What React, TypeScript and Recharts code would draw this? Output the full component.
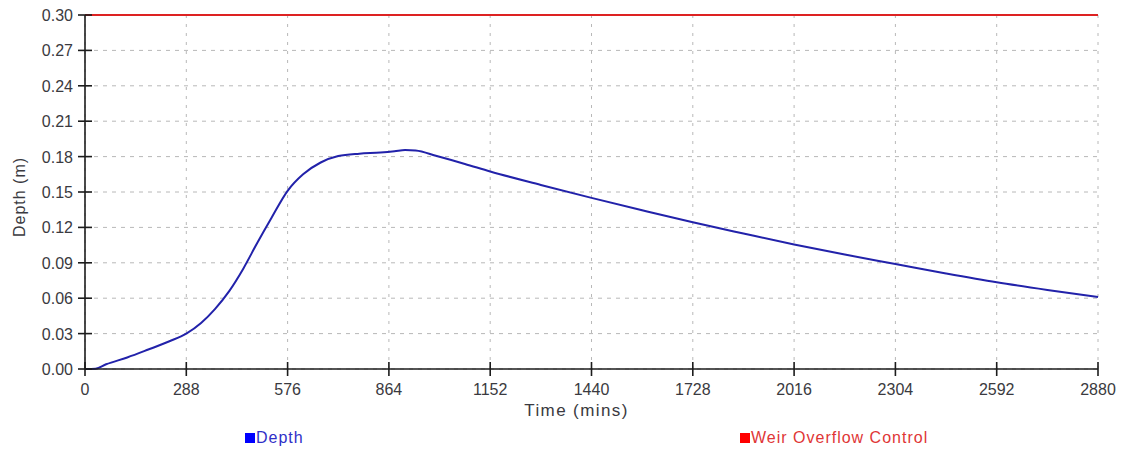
import {
  CartesianGrid,
  Label,
  Legend,
  Line,
  LineChart,
  XAxis,
  YAxis,
} from "recharts";

// Depth hydrograph, minutes from start vs depth in metres
const timeMins = [
  0, 30, 60, 120, 180, 240, 288, 330, 370, 410, 450, 490, 530, 576, 620,
  670, 720, 780, 840, 880, 910, 940, 1000, 1080, 1152, 1296, 1440, 1584,
  1728, 1872, 2016, 2160, 2304, 2448, 2592, 2736, 2880,
];

const depthM = [
  0, 0.0003, 0.004, 0.0098, 0.0165, 0.0235, 0.03, 0.039, 0.051, 0.066,
  0.085, 0.107, 0.128, 0.151, 0.165, 0.175, 0.1805, 0.1825, 0.1834, 0.1845,
  0.1856, 0.1852, 0.1805, 0.1738, 0.1674, 0.156, 0.145, 0.1345, 0.1243,
  0.1148, 0.1055, 0.097, 0.089, 0.081, 0.0735, 0.067, 0.061,
];

// Weir overflow control level
const weirTimeMins = [0, 2880];
const weirDepthM = [0.3, 0.3];

const timeTicks = [0, 288, 576, 864, 1152, 1440, 1728, 2016, 2304, 2592, 2880];
const depthTicks = [0, 0.03, 0.06, 0.09, 0.12, 0.15, 0.18, 0.21, 0.24, 0.27, 0.3];

const depthData = timeMins.map((time, i) => ({
  time,
  value: depthM[i],
}));

const weirData = weirTimeMins.map((time, i) => ({
  time,
  value: weirDepthM[i],
}));

const FONT = "'Liberation Sans', Arial, sans-serif";
const AXIS = "#1c1c1c";
const TICK_TEXT = "#3a3a40";
const GRID = "#b8b8b8";

function XTick(props: any) {
  const { x, y, payload } = props;
  return (
    <g>
      <line x1={x} x2={x} y1={y - 7} y2={y + 7} stroke={AXIS} strokeWidth={1.6} />
      <text
        x={x}
        y={y + 26}
        textAnchor="middle"
        fill={TICK_TEXT}
        fontSize={16}
        fontFamily={FONT}
      >
        {payload.value}
      </text>
    </g>
  );
}

function YTick(props: any) {
  const { x, y, payload } = props;
  return (
    <g>
      <line x1={x - 7} x2={x + 7} y1={y} y2={y} stroke={AXIS} strokeWidth={1.6} />
      <text
        x={x - 12}
        y={y + 6}
        textAnchor="end"
        fill={TICK_TEXT}
        fontSize={16}
        fontFamily={FONT}
      >
        {Number(payload.value).toFixed(2)}
      </text>
    </g>
  );
}

const legendLeft = [245, 740];
const legendText = ["#2f2fc8", "#e03636"];
const legendSwatch = ["#0000ff", "#ff0000"];

function renderLegend(props: any) {
  const { payload = [] } = props;
  return (
    <div style={{ position: "relative", width: 1127, height: 20 }}>
      {payload.map((entry: any, i: number) => (
        <div
          key={entry.value}
          style={{
            position: "absolute",
            left: legendLeft[i],
            top: 0,
            height: 20,
            display: "flex",
            alignItems: "center",
            fontFamily: FONT,
            fontSize: 16,
            letterSpacing: 1,
            color: legendText[i],
            whiteSpace: "nowrap",
          }}
        >
          <span
            style={{
              display: "inline-block",
              width: 10,
              height: 10,
              background: legendSwatch[i],
              marginRight: 1,
            }}
          />
          {entry.value}
        </div>
      ))}
    </div>
  );
}

export default function App() {
  return (
    <div style={{ width: 1127, height: 452, background: "#fff" }}>
      <style>{`body { margin: 0; }`}</style>
      <LineChart
        width={1127}
        height={452}
        margin={{ top: 15, right: 29, bottom: 0, left: 0 }}
      >
        <CartesianGrid
          horizontal={true}
          vertical={false}
          stroke={GRID}
          strokeDasharray="4 5"
        />
        <CartesianGrid
          horizontal={false}
          vertical={true}
          stroke={GRID}
          strokeDasharray="3 6"
        />

        <XAxis
          type="number"
          dataKey="time"
          domain={[0, 2880]}
          ticks={timeTicks}
          interval={0}
          height={83}
          tickSize={0}
          tickMargin={0}
          tickLine={false}
          axisLine={{ stroke: AXIS, strokeWidth: 1.6 }}
          tick={<XTick />}
        >
          <Label
            content={(props: any) => {
              const vb = props.viewBox;
              return (
                <text
                  x={vb.x + vb.width / 2 - 15}
                  y={vb.y + 47}
                  textAnchor="middle"
                  fill={TICK_TEXT}
                  fontSize={17}
                  letterSpacing={1.4}
                  fontFamily={FONT}
                >
                  Time (mins)
                </text>
              );
            }}
          />
        </XAxis>

        <YAxis
          type="number"
          domain={[0, 0.3]}
          ticks={depthTicks}
          interval={0}
          width={85}
          tickSize={0}
          tickMargin={0}
          tickLine={false}
          axisLine={{ stroke: AXIS, strokeWidth: 1.6 }}
          tick={<YTick />}
        >
          <Label
            content={(props: any) => {
              const vb = props.viewBox;
              const cy = vb.y + vb.height / 2 + 5;
              return (
                <text
                  x={25}
                  y={cy}
                  transform={`rotate(-90 25 ${cy})`}
                  textAnchor="middle"
                  fill={TICK_TEXT}
                  fontSize={16}
                  letterSpacing={1}
                  fontFamily={FONT}
                >
                  Depth (m)
                </text>
              );
            }}
          />
        </YAxis>

        <Legend
          layout="horizontal"
          verticalAlign="middle"
          align="center"
          content={renderLegend}
          wrapperStyle={{ top: 428, left: 0, width: 1127, height: 20 }}
        />

        <Line
          data={depthData}
          dataKey="value"
          name="Depth"
          type="monotone"
          stroke="#2222aa"
          strokeWidth={2}
          dot={false}
          isAnimationActive={false}
        />
        <Line
          data={weirData}
          dataKey="value"
          name="Weir Overflow Control"
          type="linear"
          stroke="#dd2222"
          strokeWidth={1.8}
          dot={false}
          isAnimationActive={false}
        />
      </LineChart>
    </div>
  );
}
